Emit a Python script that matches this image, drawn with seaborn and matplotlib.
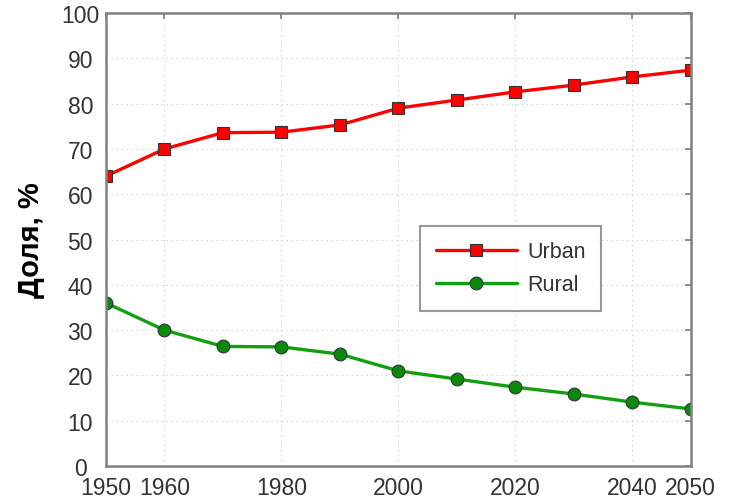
import matplotlib
matplotlib.use("Agg")
import matplotlib.pyplot as plt
import seaborn as sns
import pandas as pd

years = [1950, 1960, 1970, 1980, 1990, 2000, 2010, 2020, 2030, 2040, 2050]
urban = [64.0, 70.0, 73.6, 73.7, 75.3, 79.0, 80.8, 82.6, 84.1, 85.9, 87.4]
rural = [36.0, 30.0, 26.4, 26.3, 24.7, 21.0, 19.2, 17.4, 15.9, 14.1, 12.6]
xticks = [1950, 1960, 1980, 2000, 2020, 2040, 2050]
yticks = list(range(0, 101, 10))
ylabel = "Доля, %"

df = pd.DataFrame({
    "year": years * 2,
    "value": urban + rural,
    "series": ["Urban"] * len(years) + ["Rural"] * len(years),
})

sns.set_theme(style="white")
plt.rcParams['font.family'] = ['Liberation Sans', 'DejaVu Sans']

fig = plt.figure(figsize=(7.31, 5.02), dpi=100)
ax = fig.add_axes([0.145, 0.0697, 0.8, 0.9023])

palette = {"Urban": "#ff0000", "Rural": "#10a010"}
sns.lineplot(data=df, x="year", y="value", hue="series", style="series",
             palette=palette, markers={"Urban": "s", "Rural": "o"},
             dashes=False, linewidth=2.4, markersize=9,
             markeredgecolor="#333333", markeredgewidth=0.8, ax=ax, legend=True)
for line in ax.lines:
    if line.get_color() == "#10a010":
        line.set_markerfacecolor("#0a8a0a")
        line.set_markersize(9.2)
    else:
        line.set_markersize(8.6)

ax.set_xlim(1950, 2050)
ax.set_ylim(0, 100)
ax.set_xticks(xticks)
ax.set_yticks(yticks)
ax.grid(True, linestyle=(0, (1.5, 3)), color="#d8d8d8", linewidth=0.8)
ax.set_xlabel("")
ax.set_ylabel(ylabel, fontsize=21, fontweight="bold", color="black", labelpad=12)
ax.tick_params(axis="x", labelsize=16.5, labelcolor="#333333", direction="in",
               length=4, color="#808080", top=True, pad=7)
ax.tick_params(axis="y", labelsize=16.5, labelcolor="#333333", direction="in",
               length=4, color="#808080", right=True, pad=18.5)
for lab in ax.get_yticklabels():
    lab.set_horizontalalignment("center")
for s in ax.spines.values():
    s.set_color("#808080")
    s.set_linewidth(1.8)

leg = ax.legend(loc="upper left", bbox_to_anchor=(0.537, 0.530), fontsize=15.5,
                frameon=True, fancybox=False, edgecolor="#808080",
                handlelength=3.8, borderpad=0.72, labelspacing=0.55,
                handletextpad=0.45, borderaxespad=0)
leg.get_frame().set_linewidth(1.5)
for t in leg.get_texts():
    t.set_color("#333333")

fig.savefig("out.png", dpi=100)
